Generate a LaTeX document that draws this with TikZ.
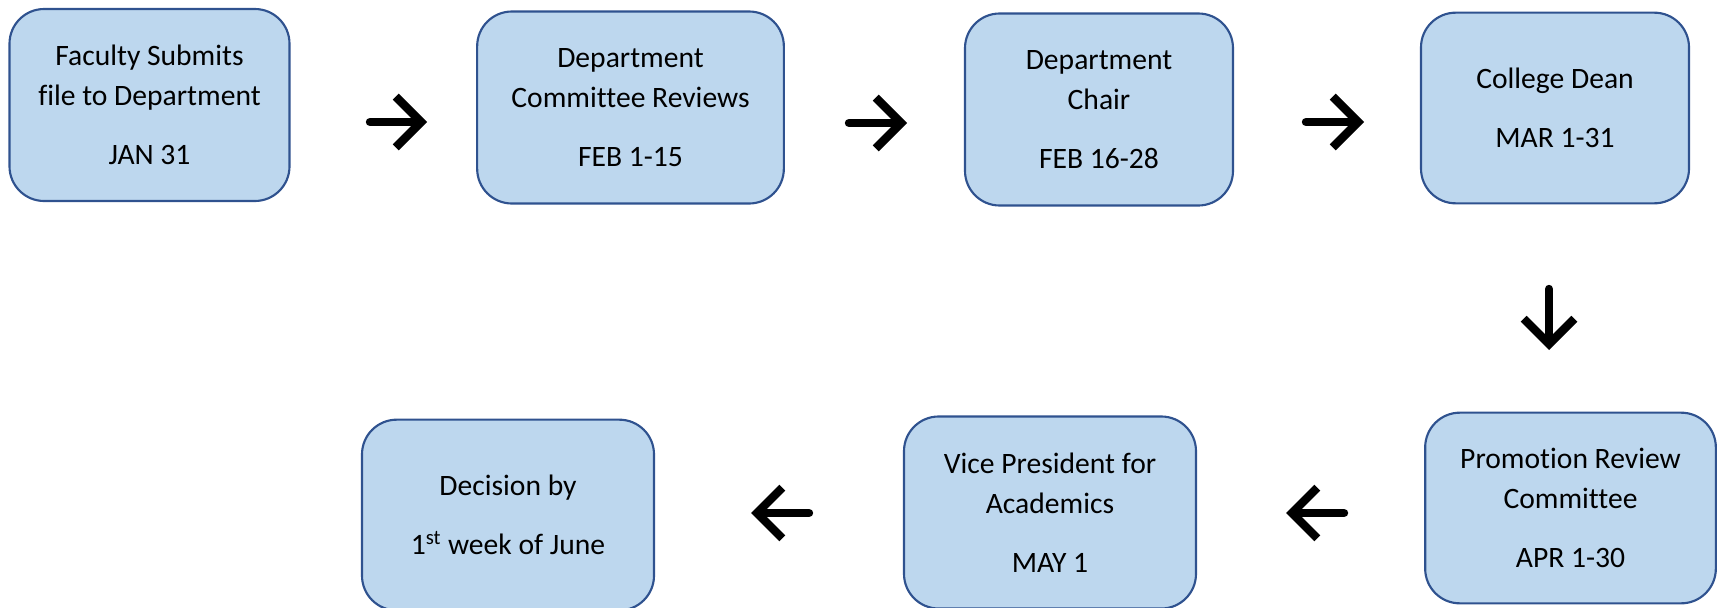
\documentclass[tikz,border=0pt]{standalone}
\usepackage{fontspec}
\setmainfont{Carlito}[Ligatures=NoCommon]
\usetikzlibrary{arrows.meta}
\definecolor{boxfill}{HTML}{BDD7EE}
\definecolor{boxline}{HTML}{2F528F}
\tikzset{
  stagebox/.style={draw=boxline, fill=boxfill, line width=1.6pt, rounded corners=26pt,
    align=center, inner sep=0pt, font=\fontsize{22.2}{30}\selectfont},
  flowarrow/.style={line width=6.3pt, line cap=round,
    -{Straight Barb[length=19pt,width=38pt,line width=6.3pt]}}
}
\begin{document}
\begin{tikzpicture}[x=0.75pt,y=-0.75pt]
\useasboundingbox (0,0) rectangle (1717,607);
\node[stagebox, minimum width=210pt, minimum height=144pt] (b1) at (149.5,105)
  {Faculty Submits\\file to Department\\[14pt]JAN 31};
\node[stagebox, minimum width=230pt, minimum height=144pt] (b2) at (630.5,107.5)
  {Department\\Committee Reviews\\[14pt]FEB 1-15};
\node[stagebox, minimum width=201pt, minimum height=144pt] (b3) at (1099,109.5)
  {Department\\Chair\\[14pt]FEB 16-28};
\node[stagebox, minimum width=201pt, minimum height=143pt] (b4) at (1555,108)
  {College Dean\\[14pt]MAR 1-31};
\node[stagebox, minimum width=218pt, minimum height=143pt] (b5) at (1570.5,508)
  {Promotion Review\\Committee\\[14pt]APR 1-30};
\node[stagebox, minimum width=219pt, minimum height=144pt] (b6) at (1050,512.5)
  {Vice President for\\Academics\\[14pt]MAY 1};
\node[stagebox, minimum width=219pt, minimum height=143pt] (b7) at (508,515)
  {Decision by\\[14pt]1\textsuperscript{st} week of June};
\coordinate (a1s) at (370,122);  \coordinate (a1e) at (427,122);
\coordinate (a2s) at (849,123);  \coordinate (a2e) at (907,123);
\coordinate (a3s) at (1306,122); \coordinate (a3e) at (1364,122);
\coordinate (a4s) at (1549,289); \coordinate (a4e) at (1549,350);
\coordinate (a5s) at (1344,513); \coordinate (a5e) at (1286,513);
\coordinate (a6s) at (809,513);  \coordinate (a6e) at (751,513);
\draw[flowarrow] (a1s) -- (a1e);
\draw[flowarrow] (a2s) -- (a2e);
\draw[flowarrow] (a3s) -- (a3e);
\draw[flowarrow] (a4s) -- (a4e);
\draw[flowarrow] (a5s) -- (a5e);
\draw[flowarrow] (a6s) -- (a6e);
\end{tikzpicture}
\end{document}
